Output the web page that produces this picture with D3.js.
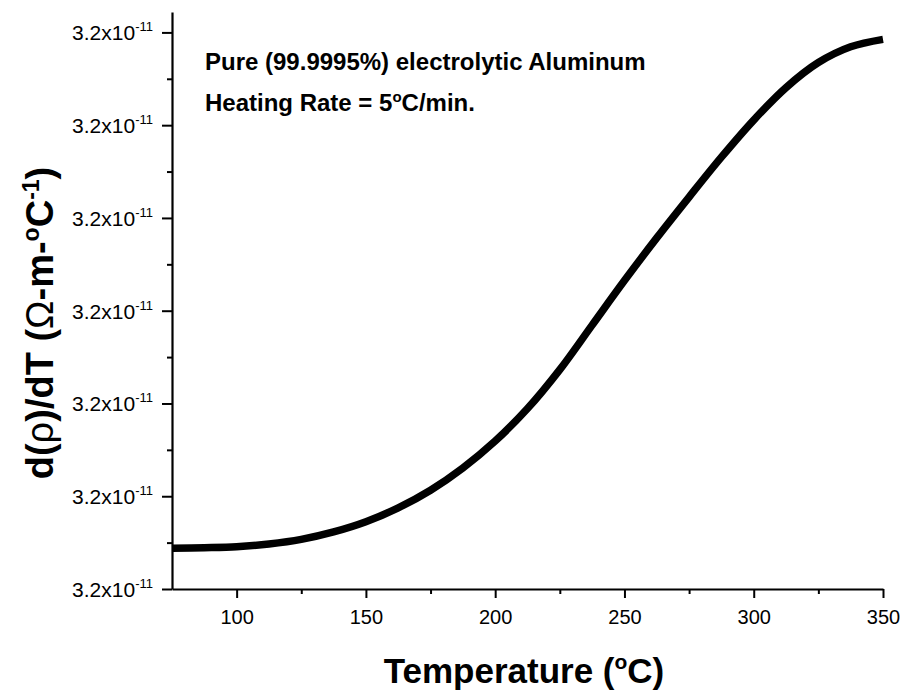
<!DOCTYPE html>
<html>
<head>
<meta charset="utf-8">
<script src="https://cdn.jsdelivr.net/npm/d3@7"></script>
<style>
  body { margin: 0; background: #fff; }
  svg { font-family: "Liberation Sans", Arial, sans-serif; }
</style>
</head>
<body>
<svg id="graph" width="906" height="690"></svg>
<script>
// temperature (°C) and d(rho)/dT, in tick-step units above the lowest tick
const temps = [75, 87.5, 100, 112.5, 125, 137.5, 150, 162.5, 175, 187.5, 200, 212.5, 225,
  237.5, 250, 262.5, 275, 287.5, 300, 312.5, 325, 337.5, 350];
const drho = [0.44, 0.445, 0.455, 0.485, 0.535, 0.615, 0.725, 0.875, 1.065, 1.305, 1.595, 1.945, 2.365,
  2.845, 3.325, 3.785, 4.225, 4.655, 5.055, 5.405, 5.675, 5.845, 5.925];

const xMajor = [100, 150, 200, 250, 300, 350];
const xMinor = [125, 175, 225, 275, 325];
const yMajor = [0, 1, 2, 3, 4, 5, 6];
const yMinor = [0.5, 1.5, 2.5, 3.5, 4.5, 5.5];
const yTickBase = '3.2x10';
const yTickExp = '-11';

const svg = d3.select('#graph');

const x = d3.scaleLinear().domain([75, 350]).range([172, 883]);
const y = d3.scaleLinear().domain([0, 6.22]).range([589, 12]);

// x axis
const gx = svg.append('g').attr('transform', 'translate(0,589)');
gx.call(d3.axisBottom(x).tickValues(xMinor).tickSize(5).tickFormat('').tickSizeOuter(0));
gx.call(g => g.select('.domain').remove());
const gx2 = svg.append('g').attr('transform', 'translate(0,589)');
gx2.call(d3.axisBottom(x).tickValues(xMajor).tickSize(9).tickSizeOuter(0).tickPadding(12));

// y axis
const gy = svg.append('g').attr('transform', 'translate(172,0)');
gy.call(d3.axisLeft(y).tickValues(yMinor).tickSize(5).tickFormat('').tickSizeOuter(0));
gy.call(g => g.select('.domain').remove());
const gy2 = svg.append('g').attr('transform', 'translate(172,0)');
gy2.call(d3.axisLeft(y).tickValues(yMajor).tickSize(10).tickSizeOuter(0).tickFormat(''));

svg.selectAll('.domain').attr('stroke', '#000').attr('stroke-width', 2.2);
svg.selectAll('.tick line').attr('stroke', '#000').attr('stroke-width', 2);

gx2.selectAll('.tick text')
  .attr('font-size', 20)
  .attr('fill', '#000')
  .attr('font-family', '"Liberation Sans", Arial, sans-serif');

const ylab = gy2.selectAll('.tick').append('text')
  .attr('x', -19)
  .attr('dy', '0.35em')
  .attr('text-anchor', 'end')
  .attr('fill', '#000')
  .attr('font-size', 21);
ylab.append('tspan').text(yTickBase);
ylab.append('tspan').attr('dy', -9).attr('font-size', 13).text(yTickExp);

// curve
const line = d3.line()
  .x((d, i) => x(temps[i]))
  .y(d => y(d))
  .curve(d3.curveCatmullRom);

svg.append('path')
  .datum(drho)
  .attr('d', line)
  .attr('fill', 'none')
  .attr('stroke', '#000')
  .attr('stroke-width', 7.5)
  .attr('stroke-linecap', 'butt');

// annotation
const note = svg.append('g').attr('font-weight', 'bold').attr('font-size', 24).attr('fill', '#000');
note.append('text').attr('x', 205).attr('y', 70).text('Pure (99.9995%) electrolytic Aluminum');
const n2 = note.append('text').attr('x', 205).attr('y', 111);
n2.append('tspan').text('Heating Rate = 5');
n2.append('tspan').attr('dy', -9).attr('font-size', 15).text('o');
n2.append('tspan').attr('dy', 9).text('C/min.');

// x title
const xt = svg.append('text')
  .attr('x', 524).attr('y', 683)
  .attr('text-anchor', 'middle')
  .attr('font-weight', 'bold')
  .attr('font-size', 35);
xt.append('tspan').text('Temperature (');
xt.append('tspan').attr('dy', -14).attr('font-size', 21).text('o');
xt.append('tspan').attr('dy', 14).text('C)');

// y title
const yt = svg.append('text')
  .attr('transform', 'translate(53,323) rotate(-90)')
  .attr('text-anchor', 'middle')
  .attr('font-weight', 'bold')
  .attr('font-size', 38);
yt.append('tspan').text('d(');
yt.append('tspan').attr('font-weight', 'normal').text('ρ');
yt.append('tspan').text(')/dT (');
yt.append('tspan').attr('font-weight', 'normal').text('Ω');
yt.append('tspan').text('-m-');
yt.append('tspan').attr('dy', -14).attr('font-size', 23).text('o');
yt.append('tspan').attr('dy', 14).text('C');
yt.append('tspan').attr('dy', -14).attr('font-size', 23).text('-1');
yt.append('tspan').attr('dy', 14).text(')');
</script>
</body>
</html>
